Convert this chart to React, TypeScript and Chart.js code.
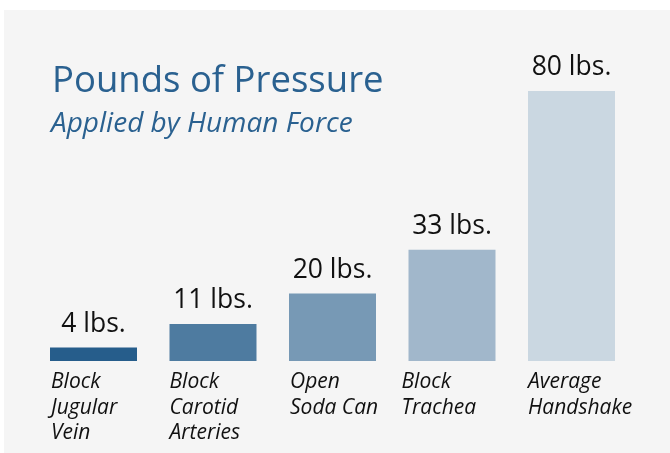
import React, { useEffect, useRef } from "react";
import { Chart, registerables } from "chart.js";

Chart.register(...registerables);

const categories: string[][] = [
  ["Block", "Jugular", "Vein"],
  ["Block", "Carotid", "Arteries"],
  ["Open", "Soda Can"],
  ["Block", "Trachea"],
  ["Average", "Handshake"],
];
const pounds: number[] = [4, 11, 20, 33, 80];
const valueLabels: string[] = ["4 lbs.", "11 lbs.", "20 lbs.", "33 lbs.", "80 lbs."];
const barColors: string[] = ["#265d8b", "#4e7ba0", "#7799b5", "#a1b7cb", "#cad7e1"];
const titleText = "Pounds of Pressure";
const subtitleText = "Applied by Human Force";

// small horizontal nudges of category labels relative to their bar's left edge
const labelNudge = [1, 0, 1, -7, 0];

const labelsPlugin = {
  id: "customLabels",
  afterDatasetsDraw(chart: any) {
    const ctx = chart.ctx;
    const meta = chart.getDatasetMeta(0);
    const area = chart.chartArea;
    ctx.save();
    // title
    ctx.fillStyle = "#2a6190";
    ctx.textAlign = "left";
    ctx.textBaseline = "alphabetic";
    ctx.font = "36.5px 'Open Sans'";
    ctx.fillText(titleText, 48, 82);
    ctx.font = "italic 28px 'Open Sans'";
    ctx.fillText(subtitleText, 47, 121.5);

    meta.data.forEach((bar: any, i: number) => {
      // value labels
      ctx.fillStyle = "#111111";
      ctx.font = "26.5px 'Open Sans'";
      ctx.textAlign = "center";
      ctx.fillText(valueLabels[i], bar.x, bar.y - 16);
      // category labels
      ctx.font = "italic 21px 'Open Sans'";
      ctx.textAlign = "left";
      const left = bar.x - bar.width / 2 + labelNudge[i];
      categories[i].forEach((line, j) => {
        ctx.fillText(line, left, area.bottom + 27 + j * 25.5);
      });
    });
    ctx.restore();
  },
};

export default function App() {
  const ref = useRef<HTMLCanvasElement | null>(null);
  useEffect(() => {
    if (!ref.current) return;
    const chart = new Chart(ref.current, {
      type: "bar",
      data: {
        labels: categories.map((c) => c.join(" ")),
        datasets: [
          {
            data: pounds,
            backgroundColor: barColors,
            borderWidth: 0,
            categoryPercentage: 1,
            barPercentage: 0.728,
          },
        ],
      },
      options: {
        animation: false,
        responsive: false,
        maintainAspectRatio: false,
        layout: { padding: { left: 29.75, right: 38.75, top: 81, bottom: 92 } },
        plugins: {
          legend: { display: false },
          tooltip: { enabled: false },
          title: { display: false },
        },
        scales: {
          x: { display: false, grid: { display: false } },
          y: { display: false, min: 0, max: 80, grid: { display: false } },
        },
      },
      plugins: [labelsPlugin],
    });
    return () => chart.destroy();
  }, []);
  return (
    <div style={{ position: "fixed", left: 0, top: 0, width: 670, height: 453, background: "#ffffff" }}>
      <div style={{ position: "absolute", left: 4, top: 10, width: 666, height: 443, background: "#f5f5f5" }}>
        <canvas ref={ref} width={666} height={443} style={{ display: "block", width: 666, height: 443 }} />
      </div>
    </div>
  );
}
